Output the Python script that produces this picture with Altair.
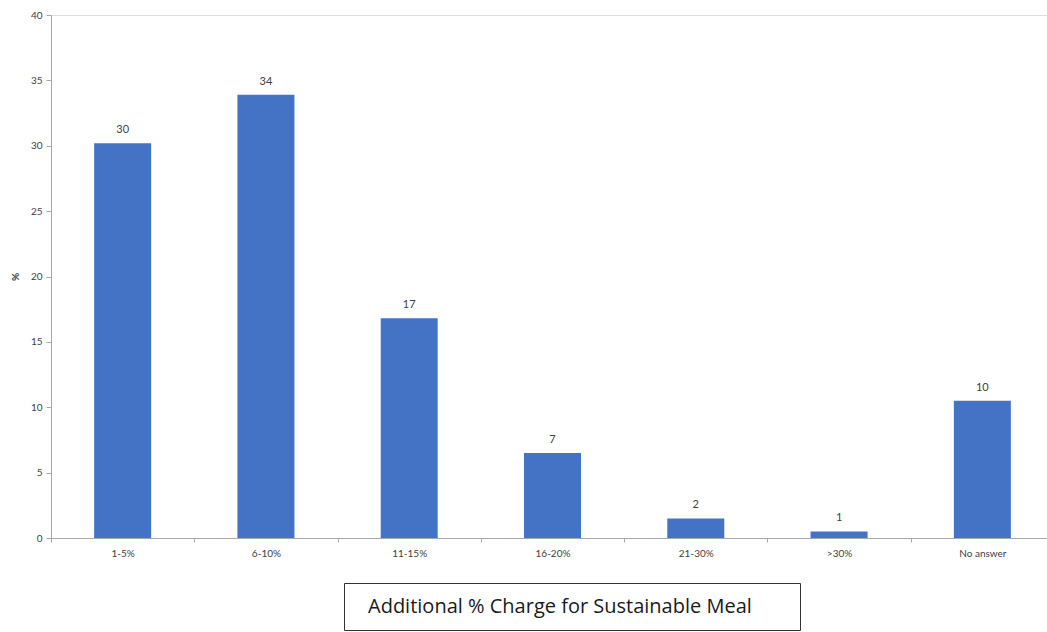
import altair as alt
import pandas as pd

categories = ["1-5%", "6-10%", "11-15%", "16-20%", "21-30%", ">30%", "No answer"]
values = [30.2, 33.9, 16.8, 6.5, 1.5, 0.5, 10.5]
labels = ["30", "34", "17", "7", "2", "1", "10"]
title_text = "Additional % Charge for Sustainable Meal"

df = pd.DataFrame({"cat": categories, "val": values, "lab": labels})

FONT = "Lato"
x_enc = alt.X("cat:N", sort=categories, title=None,
              scale=alt.Scale(range=[0, 1003], paddingInner=0, paddingOuter=0),
              axis=alt.Axis(labelAngle=0, tickBand="extent", domainColor="#a8a8a8",
                            tickColor="#a8a8a8", tickSize=4, labelPadding=6,
                            labelFont=FONT, labelFontSize=10, labelColor="#404040"))
y_enc = alt.Y("val:Q", title="%",
              scale=alt.Scale(domain=[0, 40], nice=False),
              axis=alt.Axis(values=list(range(0, 41, 5)), grid=False,
                            domainColor="#a8a8a8", tickColor="#a8a8a8", tickSize=5,
                            labelPadding=4, labelFont=FONT, labelFontSize=10,
                            labelColor="#404040", titleFont=FONT, titleFontSize=10,
                            titleFontWeight="bold", titleColor="#404040",
                            titleX=-31))

bars = alt.Chart(df).mark_bar(color="#4472C4", size=57).encode(x=x_enc, y=y_enc)
text = alt.Chart(df).mark_text(font=FONT, fontSize=11, color="#404040",
                               baseline="alphabetic", dy=-10).encode(
    x=alt.X("cat:N", sort=categories), y="val:Q", text="lab:N")

box = alt.Chart(df.head(1)).mark_rect(fill="white", stroke="#333333", strokeWidth=1).encode(
    x=alt.value(293.5), x2=alt.value(749.5), y=alt.value(568.5), y2=alt.value(615.5))
title = alt.Chart(df.head(1)).mark_text(font="Open Sans", fontSize=20, color="#1a1a1a",
                                        align="left", baseline="alphabetic").encode(
    x=alt.value(317), y=alt.value(598), text=alt.value(title_text))

chart = alt.layer(bars, text, box, title).properties(
    width=996, height=523,
    autosize=alt.AutoSizeParams(type="none"),
    padding={"left": 51, "top": 15, "right": 0, "bottom": 94},
).configure_view(stroke=None).configure(background="white")

chart.save("out.html", embed_options={"renderer": "svg", "actions": False})
